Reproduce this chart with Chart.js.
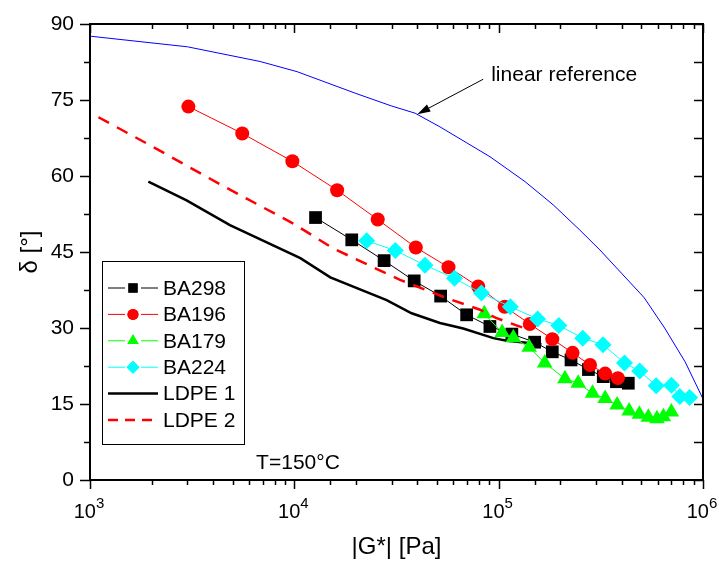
<!DOCTYPE html>
<html>
<head>
<meta charset="utf-8">
<script src="https://cdn.jsdelivr.net/npm/chart.js@4.4.1/dist/chart.umd.min.js"></script>
<style>
  html, body { margin: 0; padding: 0; background: #fff; }
</style>
</head>
<body>
<canvas id="myChart" width="719" height="562"></canvas>
<script>
// |G*| [Pa] and phase angle delta [deg] for each sample
const ba298G = [12700, 19100, 27500, 38600, 52000, 69700, 90600, 116000, 150000, 183000, 226000, 275000, 325000, 377000, 431000];
const ba298D = [51.8, 47.4, 43.3, 39.3, 36.3, 32.6, 30.3, 28.8, 27.2, 25.3, 23.7, 21.8, 20.4, 19.4, 19.1];

const ba196G = [3030, 5560, 9780, 16200, 25600, 39300, 56800, 79400, 107000, 142000, 183000, 230000, 280000, 332000, 383000];
const ba196D = [73.7, 68.4, 62.9, 57.2, 51.4, 45.9, 42.0, 38.2, 34.2, 30.8, 27.8, 25.1, 22.7, 21.0, 20.1];

const ba179G = [85000, 104000, 118000, 141000, 168000, 211000, 245000, 288000, 332000, 380000, 435000, 488000, 540000, 595000, 640000, 700000];
const ba179D = [32.8, 29.1, 28.1, 26.2, 23.1, 20.0, 19.1, 17.1, 16.1, 14.8, 13.6, 13.0, 12.4, 12.1, 12.5, 13.4];

const ba224G = [22600, 31200, 43600, 60800, 82300, 114000, 155000, 197000, 258000, 324000, 413000, 490000, 590000, 700000, 770000, 860000];
const ba224D = [47.2, 45.3, 42.4, 39.8, 36.9, 34.2, 31.8, 30.5, 28.0, 26.7, 23.1, 21.5, 18.6, 18.7, 16.5, 16.3];

const ldpe1G = [1930, 2970, 4840, 10700, 15000, 28300, 37500, 51600, 67100, 94200, 109600, 162000];
const ldpe1D = [58.9, 55.2, 50.3, 43.8, 40.0, 35.5, 32.9, 31.0, 29.9, 28.0, 27.5, 26.8];

const ldpe2G = [1100, 1900, 4500, 9900, 15500, 32900, 55700, 81100, 97000, 141000];
const ldpe2D = [71.6, 66.4, 58.0, 50.6, 45.7, 39.5, 35.9, 33.6, 32.0, 29.6];

// linear viscoelastic reference curve
const refG = [1000, 3000, 6800, 10300, 20000, 30000, 39000, 51600, 90700, 134500, 185000, 250000, 313000, 515000, 649000, 818000, 1000000];
const refD = [87.6, 85.5, 82.6, 80.6, 76.3, 73.8, 72.4, 69.7, 63.8, 58.9, 54.3, 49.3, 45.4, 36.0, 30.0, 23.3, 16.0];

const refLabel = 'linear reference';
const refArrowTip = [40000, 72.2];
const refArrowTail = [84000, 79.1];
const tempLabel = 'T=150°C';
const tempPos = [6500, 3.4];

const FONT = "'Liberation Sans', Arial, Helvetica, sans-serif";
Chart.defaults.font.family = FONT;
Chart.defaults.color = '#000';

const pts = (g, d) => g.map((v, i) => ({ x: v, y: d[i] }));

const datasets = [
  { label: 'BA298', data: pts(ba298G, ba298D), borderColor: '#000', backgroundColor: '#000',
    borderWidth: 1, pointStyle: 'rect', pointRadius: 9, pointBorderWidth: 0, order: 4, legendR: 6.5 },
  { label: 'BA196', data: pts(ba196G, ba196D), borderColor: '#ff0000', backgroundColor: '#ff0000',
    borderWidth: 1, pointStyle: 'circle', pointRadius: 7, pointBorderWidth: 0, order: 3, legendR: 5.5 },
  { label: 'BA179', data: pts(ba179G, ba179D), borderColor: '#00ff00', backgroundColor: '#00ff00',
    borderWidth: 1, pointStyle: 'triangle', pointRadius: 9, pointBorderWidth: 0, order: 2, legendR: 6.5 },
  { label: 'BA224', data: pts(ba224G, ba224D), borderColor: '#00ffff', backgroundColor: '#00ffff',
    borderWidth: 1, pointStyle: 'rectRot', pointRadius: 8.5, pointBorderWidth: 0, order: 1, legendR: 6.5 },
  { label: 'LDPE 1', data: pts(ldpe1G, ldpe1D), borderColor: '#000', backgroundColor: '#000',
    borderWidth: 2.5, pointRadius: 0, order: 6 },
  { label: 'LDPE 2', data: pts(ldpe2G, ldpe2D), borderColor: '#ff0000', backgroundColor: '#ff0000',
    borderWidth: 2.5, borderDash: [12, 9], pointRadius: 0, order: 0 },
  { label: 'reference', data: pts(refG, refD), borderColor: '#0000ff', backgroundColor: '#0000ff',
    borderWidth: 1, pointRadius: 0, order: 7, noLegend: true }
];

// frame, inward/outward ticks, decade labels, legend box and annotations
const decor = {
  id: 'decor',
  afterDraw(chart) {
    const ctx = chart.ctx;
    const { left, right, top, bottom } = chart.chartArea;
    const xs = chart.scales.x, ys = chart.scales.y;
    ctx.save();
    ctx.strokeStyle = '#000';
    ctx.fillStyle = '#000';

    // x ticks: outward at bottom, inward at top
    ctx.lineWidth = 1.5;
    ctx.beginPath();
    xs.ticks.forEach(t => {
      const p = Math.round(xs.getPixelForValue(t.value)) + 0.5;
      const major = Math.abs(Math.log10(t.value) - Math.round(Math.log10(t.value))) < 1e-9;
      const len = major ? 9 : 5;
      ctx.moveTo(p, bottom); ctx.lineTo(p, bottom + len);
      ctx.moveTo(p, top); ctx.lineTo(p, top + len);
    });
    // y ticks: outward at left, inward at right
    ys.ticks.forEach(t => {
      const p = Math.round(ys.getPixelForValue(t.value)) + 0.5;
      const major = t.value % 15 === 0;
      ctx.moveTo(left, p); ctx.lineTo(left - (major ? 10 : 6), p);
      ctx.moveTo(right, p); ctx.lineTo(right - 9, p);
    });
    ctx.stroke();

    // frame
    ctx.lineWidth = 2;
    ctx.strokeRect(left, top, right - left, bottom - top);

    // decade labels 10^n
    xs.ticks.forEach(t => {
      const e = Math.log10(t.value);
      if (Math.abs(e - Math.round(e)) > 1e-9) return;
      const p = xs.getPixelForValue(t.value);
      ctx.font = '20px ' + FONT;
      const wb = ctx.measureText('10').width;
      ctx.font = '15px ' + FONT;
      const we = ctx.measureText(String(Math.round(e))).width;
      const x0 = p - (wb + we) / 2 - 1;
      ctx.textAlign = 'left';
      ctx.textBaseline = 'alphabetic';
      ctx.font = '20px ' + FONT;
      ctx.fillText('10', x0, bottom + 38);
      ctx.font = '15px ' + FONT;
      ctx.fillText(String(Math.round(e)), x0 + wb, bottom + 28);
    });

    // legend
    const lx = 102.5, ly = 261.5, lw = 142, lh = 183;
    ctx.fillStyle = '#fff';
    ctx.fillRect(lx, ly, lw, lh);
    ctx.lineWidth = 1;
    ctx.strokeStyle = '#000';
    ctx.strokeRect(lx, ly, lw, lh);
    let row = 0;
    chart.data.datasets.forEach(ds => {
      if (ds.noLegend) return;
      const y = 288 + row * 26.4;
      ctx.strokeStyle = ds.borderColor;
      ctx.lineWidth = ds.pointRadius ? 1 : ds.borderWidth;
      ctx.setLineDash(ds.borderDash ? [10, 7] : []);
      ctx.beginPath();
      if (ds.pointRadius) {
        ctx.moveTo(108, y); ctx.lineTo(125, y);
        ctx.moveTo(141, y); ctx.lineTo(158, y);
      } else {
        ctx.moveTo(108, y); ctx.lineTo(158, y);
      }
      ctx.stroke();
      ctx.setLineDash([]);
      if (ds.pointRadius) {
        ctx.fillStyle = ds.backgroundColor;
        Chart.helpers.drawPoint(ctx, { pointStyle: ds.pointStyle, radius: ds.legendR, borderWidth: 0, rotation: 0 }, 133, y);
        ctx.fill();
      }
      ctx.fillStyle = '#000';
      ctx.font = '21px ' + FONT;
      ctx.textAlign = 'left';
      ctx.textBaseline = 'middle';
      ctx.fillText(ds.label, 163, y + 1);
      row++;
    });

    // arrow to the reference curve
    const tx = xs.getPixelForValue(refArrowTip[0]), ty = ys.getPixelForValue(refArrowTip[1]);
    const sx = xs.getPixelForValue(refArrowTail[0]), sy = ys.getPixelForValue(refArrowTail[1]);
    const ang = Math.atan2(ty - sy, tx - sx);
    ctx.strokeStyle = '#000';
    ctx.lineWidth = 1;
    ctx.beginPath();
    ctx.moveTo(sx, sy); ctx.lineTo(tx - Math.cos(ang) * 8, ty - Math.sin(ang) * 8);
    ctx.stroke();
    ctx.beginPath();
    ctx.moveTo(tx, ty);
    ctx.lineTo(tx - Math.cos(ang) * 13 + Math.sin(ang) * 4, ty - Math.sin(ang) * 13 - Math.cos(ang) * 4);
    ctx.lineTo(tx - Math.cos(ang) * 13 - Math.sin(ang) * 4, ty - Math.sin(ang) * 13 + Math.cos(ang) * 4);
    ctx.closePath();
    ctx.fillStyle = '#000';
    ctx.fill();
    ctx.font = '21px ' + FONT;
    ctx.textAlign = 'left';
    ctx.textBaseline = 'middle';
    ctx.fillText(refLabel, sx + 8, sy - 4);

    // temperature note
    ctx.fillText(tempLabel, xs.getPixelForValue(tempPos[0]), ys.getPixelForValue(tempPos[1]));
    ctx.restore();
  }
};

new Chart(document.getElementById('myChart'), {
  type: 'scatter',
  data: { datasets: datasets.map(d => Object.assign({ showLine: true, fill: false, tension: 0 }, d)) },
  options: {
    responsive: false,
    animation: false,
    layout: { padding: { left: 0, right: 16, top: 24, bottom: 0 } },
    plugins: { legend: { display: false }, tooltip: { enabled: false } },
    scales: {
      x: {
        type: 'logarithmic',
        min: 1000,
        max: 1000000,
        grid: { display: false, drawTicks: false },
        border: { display: false },
        ticks: { autoSkip: false, maxRotation: 0, callback: () => '' },
        title: { display: true, text: '|G*| [Pa]', font: { size: 24 }, padding: { top: 0, bottom: 0 } },
        afterFit: s => { s.height = 82; s.paddingLeft = 0; s.paddingRight = 0; }
      },
      y: {
        min: 0,
        max: 90,
        grid: { display: false, drawTicks: false },
        border: { display: false },
        ticks: {
          stepSize: 7.5,
          autoSkip: false,
          padding: 16,
          font: { size: 21 },
          callback: v => (v % 15 === 0 ? String(v) : '')
        },
        title: { display: true, text: 'δ [°]', font: { size: 24 }, padding: { top: 16, bottom: 0 } },
        // keep the plot frame where the layout padding puts it
        afterFit: s => { s.width = 90; s.paddingTop = 0; s.paddingBottom = 0; }
      }
    }
  },
  plugins: [decor]
});
</script>
</body>
</html>
